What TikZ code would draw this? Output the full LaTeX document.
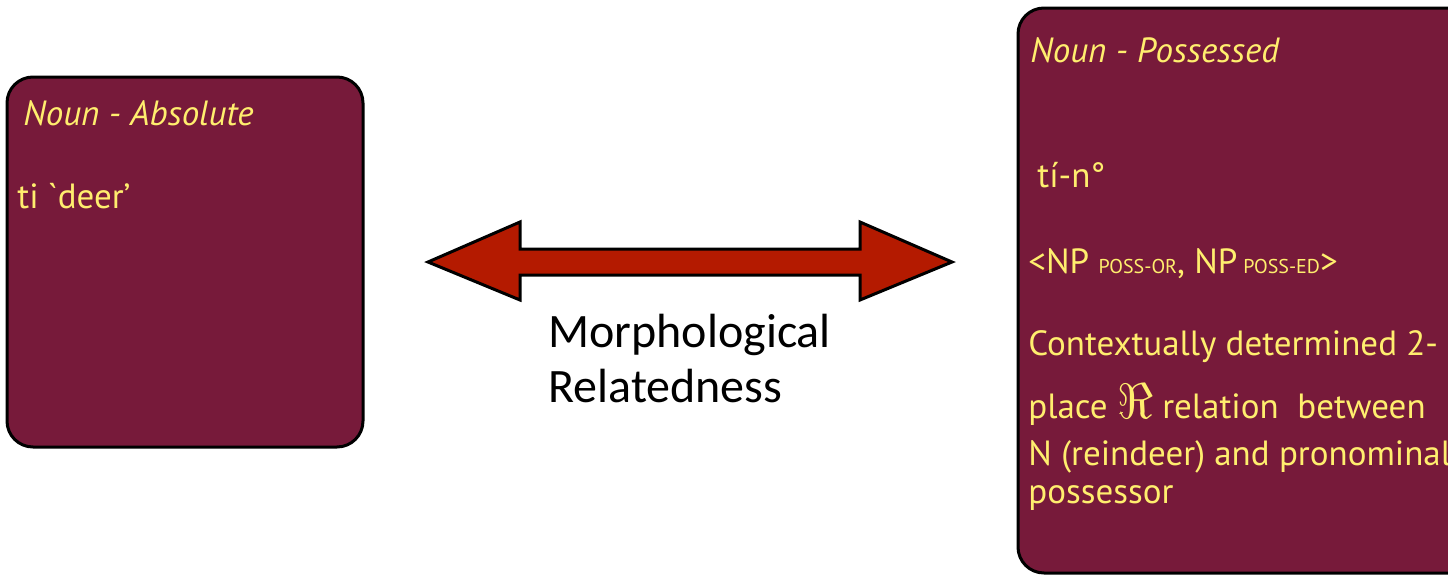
\documentclass[tikz,border=0pt]{standalone}
\usepackage{fontspec}
\newfontfamily\boxfont{PT Sans}
\newfontfamily\labelfont{Carlito}
\definecolor{wine}{RGB}{119,26,58}
\definecolor{straw}{RGB}{255,238,110}
\definecolor{brick}{RGB}{180,26,0}
\tikzset{
  panel/.style={draw=black, line width=1.5pt, fill=wine, rounded corners=13pt, inner sep=0pt},
  txt/.style={anchor=base west, inner sep=0pt, text=straw, font=\boxfont\fontsize{17.5}{20}\selectfont},
  lbl/.style={anchor=base west, inner sep=0pt, font=\labelfont\fontsize{24}{30}\selectfont}
}
\newcommand{\smallcap}[1]{{\fontsize{10}{10}\selectfont #1}}
\begin{document}
\begin{tikzpicture}[x=0.5pt,y=-0.5pt]
\path[use as bounding box] (0,0) rectangle (1448,574);
\clip (0,0) rectangle (1448,574);
\node[panel, minimum width=178pt, minimum height=185pt] (absolute) at (185,262) {};
\node[panel, minimum width=228.5pt, minimum height=282.5pt] (possessed) at (1246.5,290.5) {};
\node[txt] (abstitle) at (23,125) {\itshape Noun - Absolute};
\node[txt] (deer) at (17,208) {ti \textasciigrave deer’};
\node[txt] (posstitle) at (1030,62) {\itshape Noun - Possessed};
\node[txt] (tin) at (1037,187) {tí-n°};
\node[txt] (args) at (1028,273) {<NP \smallcap{POSS-OR}, NP\,\smallcap{POSS-ED}>};
\node[txt] (line1) at (1028,355) {Contextually determined 2-};
\node[txt] (line2) at (1028,418) {place {\fontsize{28}{28}\selectfont$\Re$} relation\ \ between};
\node[txt] (line3) at (1028,465) {N (reindeer) and pronominal};
\node[txt] (line4) at (1028,503) {possessor};
\coordinate (tipL) at (428,262);
\coordinate (tipR) at (952,262);
\draw[line width=1.5pt, fill=brick] (tipL) -- ++(92,-40) -- ++(0,27) -- ++(340,0) -- ++(0,-27)
  -- (tipR) -- ++(-92,38) -- ++(0,-25) -- ++(-340,0) -- ++(0,25) -- cycle;
\node[lbl] (morph) at (548,347) {Morphological};
\node[lbl] (relat) at ([yshift=-27.5pt]morph.base west) {Relatedness};
\end{tikzpicture}
\end{document}
